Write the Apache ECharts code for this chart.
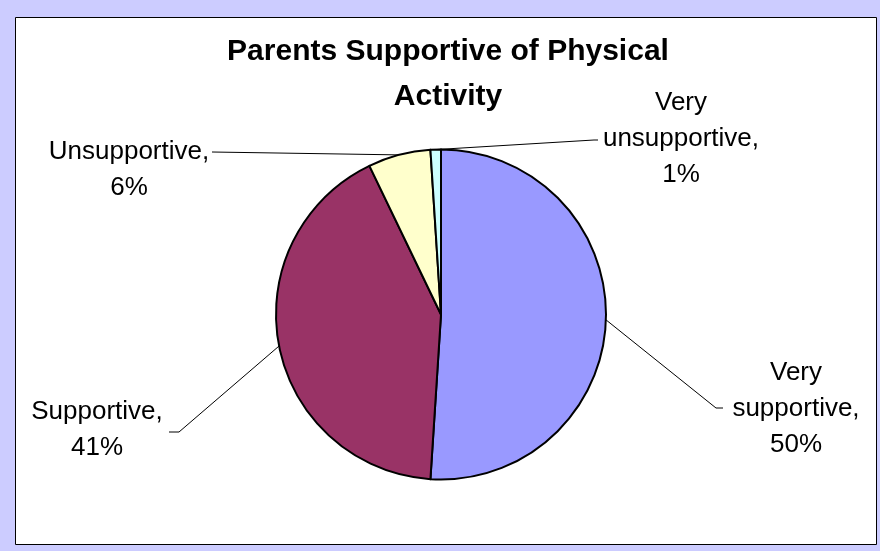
<!DOCTYPE html>
<html><head><meta charset="utf-8">
<script src="https://cdn.jsdelivr.net/npm/echarts@6/dist/echarts.min.js"></script>
<style>html,body{margin:0;padding:0;background:#CCCCFF}#c{width:880px;height:551px}</style>
</head><body><div id="c"></div>
<script>
const titleText = 'Parents Supportive of Physical\nActivity';
const categories = ['Very supportive', 'Supportive', 'Unsupportive', 'Very unsupportive'];
const values = [50, 41, 6, 1];
const colors = ['#9999FF', '#993366', '#FFFFCC', '#CCFFFF'];
// label block centres and leader line bends (layout only)
const labelPos = [[796, 409], [97, 430], [129, 170], [681, 139]];
const lineBends = [[[716, 408], [723, 408]], [[179, 432], [169, 432]], [[212, 152], [212, 152]], [[594, 140], [598, 140]]];

const chart = echarts.init(document.getElementById('c'), null, {renderer: 'canvas'});
const FONT = '"Liberation Sans", Arial, sans-serif';
chart.setOption({
  backgroundColor: '#CCCCFF',
  animation: false,
  graphic: [{
    type: 'rect', z: -10, silent: true,
    shape: {x: 15.5, y: 17.5, width: 861, height: 527},
    style: {fill: '#FFFFFF', stroke: '#000000', lineWidth: 1}
  }],
  title: {
    text: titleText,
    left: 448, top: 29, textAlign: 'center', padding: 0,
    textStyle: {fontFamily: FONT, fontWeight: 'bold', fontSize: 30, lineHeight: 45, color: '#000'}
  },
  series: [{
    type: 'pie',
    center: [441, 314.5],
    radius: 165,
    startAngle: 90,
    clockwise: true,
    avoidLabelOverlap: false,
    data: categories.map((c, i) => ({name: c, value: values[i], itemStyle: {color: colors[i]}})),
    itemStyle: {borderColor: '#000', borderWidth: 2},
    emphasis: {disabled: true},
    label: {
      show: true, position: 'outside',
      fontFamily: FONT, fontSize: 26, lineHeight: 36, color: '#000', align: 'center',
      formatter: p => p.name.replace('Very ', 'Very\n') + ',\n' + p.value + '%'
    },
    labelLine: {show: true, lineStyle: {color: '#000', width: 1}},
    labelLayout: function (params) {
      const i = params.dataIndex;
      const start = params.labelLinePoints ? params.labelLinePoints[0] : null;
      const out = {x: labelPos[i][0], y: labelPos[i][1], align: 'center', verticalAlign: 'middle'};
      if (start) out.labelLinePoints = [start, lineBends[i][0], lineBends[i][1]];
      return out;
    }
  }]
});
</script></body></html>
